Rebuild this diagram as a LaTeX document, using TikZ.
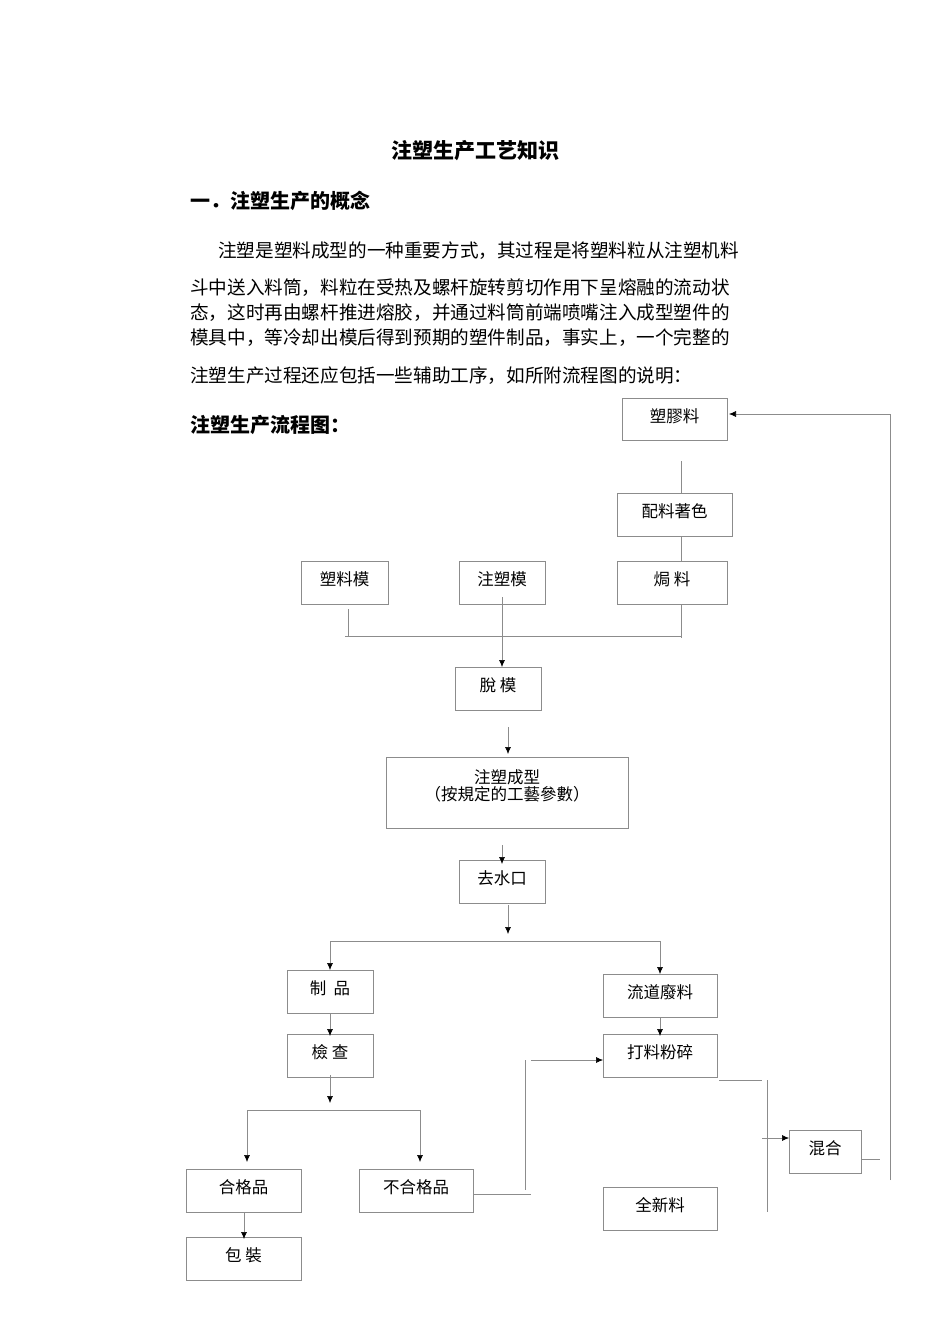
\documentclass[tikz,border=0pt]{standalone}
\usepackage{fontspec}
\setmainfont{Noto Sans CJK SC}
\usetikzlibrary{arrows.meta}
\begin{document}
\begin{tikzpicture}[x=1pt,y=-1pt,
  bx/.style={draw=black!45,line width=0.7pt,inner sep=0pt},
  ln/.style={draw=black!45,line width=0.6pt},
  ar/.style={ln,-{Latex[length=7pt,width=6pt,black]}},
  lb/.style={font=\fontsize{16.5}{16.5}\selectfont,anchor=center},
  pt/.style={font=\fontsize{18.6}{18.6}\selectfont,anchor=west,inner sep=0pt}]
\useasboundingbox[fill=white] (0,0) rectangle (950,1344);
\node[font=\fontsize{21}{21}\selectfont\bfseries] (title) at (475,151) {注塑生产工艺知识};
\node[font=\fontsize{20}{20}\selectfont\bfseries,anchor=west,inner sep=0pt] (h1) at (190,201) {一．注塑生产的概念};
\node[pt] (p1) at (218,251) {注塑是塑料成型的一种重要方式，其过程是将塑料粒从注塑机料};
\node[pt] (p2) at (190,288) {斗中送入料筒，料粒在受热及螺杆旋转剪切作用下呈熔融的流动状};
\node[pt] (p3) at (190,313) {态，这时再由螺杆推进熔胶，并通过料筒前端喷嘴注入成型塑件的};
\node[pt] (p4) at (190,338) {模具中，等冷却出模后得到预期的塑件制品，事实上，一个完整的};
\node[pt] (p5) at (190,376) {注塑生产过程还应包括一些辅助工序，如所附流程图的说明：};
\node[font=\fontsize{20}{20}\selectfont\bfseries,anchor=west,inner sep=0pt] (h2) at (190,425) {注塑生产流程图：};
\newcommand\bxn[6]{\draw[bx] (#2,#3) rectangle (#4,#5); \coordinate (#1) at ({(#2+#4)/2},{(#3+#5)/2}); \node[lb] (#1t) at ({(#2+#4)/2},#3+18) {#6};}
\bxn{a}{622}{398}{727}{440}{塑膠料}
\bxn{b}{617}{493}{732}{536}{配料著色}
\bxn{c}{301}{561}{388}{604}{塑料模}
\bxn{d}{459}{561}{545}{604}{注塑模}
\bxn{e}{617}{561}{727}{604}{焗\ 料}
\bxn{f}{455}{667}{541}{710}{脫\ 模}
\draw[bx] (386,757) rectangle (628,828);
\node[lb,align=center] (g) at (507,786) {注塑成型\\（按規定的工藝參數）};
\bxn{h}{459}{860}{545}{903}{去水口}
\bxn{i}{287}{970}{373}{1013}{制\ \ 品}
\bxn{j}{603}{974}{717}{1017}{流道廢料}
\bxn{k}{287}{1034}{373}{1077}{檢\ 查}
\bxn{l}{603}{1034}{717}{1077}{打料粉碎}
\bxn{m}{789}{1130}{861}{1173}{混合}
\bxn{n}{186}{1169}{301}{1212}{合格品}
\bxn{o}{359}{1169}{473}{1212}{不合格品}
\bxn{q}{603}{1187}{717}{1230}{全新料}
\bxn{r}{186}{1237}{301}{1280}{包\ 裝}
\draw[ln] (681,461) -- (681,493);
\draw[ln] (681,536) -- (681,561);
\draw[ln] (681,604) -- (681,638);
\draw[ln] (345,636) -- (681,636);
\draw[ln] (348,609) -- (348,636);
\draw[ar] (502,597) -- (502,667);
\draw[ln] (890,1180) -- (890,414);
\draw[ar] (890,414) -- (729,414);
\draw[ln] (861,1159) -- (880,1159);
\draw[ar] (508,727) -- (508,754);
\draw[ar] (502,845) -- (502,864);
\draw[ar] (508,905) -- (508,934);
\draw[ln] (330,941) -- (660,941);
\draw[ar] (330,941) -- (330,970);
\draw[ar] (660,941) -- (660,974);
\draw[ar] (330,1013) -- (330,1036);
\draw[ar] (330,1075) -- (330,1103);
\draw[ln] (247,1110) -- (420,1110);
\draw[ar] (247,1110) -- (247,1162);
\draw[ar] (420,1110) -- (420,1162);
\draw[ar] (244,1212) -- (244,1239);
\draw[ln] (473,1194) -- (531,1194);
\draw[ln] (525,1060) -- (525,1190);
\draw[ar] (531,1060) -- (603,1060);
\draw[ar] (660,1017) -- (660,1036);
\draw[ln] (719,1080) -- (762,1080);
\draw[ln] (767,1080) -- (767,1212);
\draw[ar] (762,1138) -- (789,1138);
\end{tikzpicture}
\end{document}
